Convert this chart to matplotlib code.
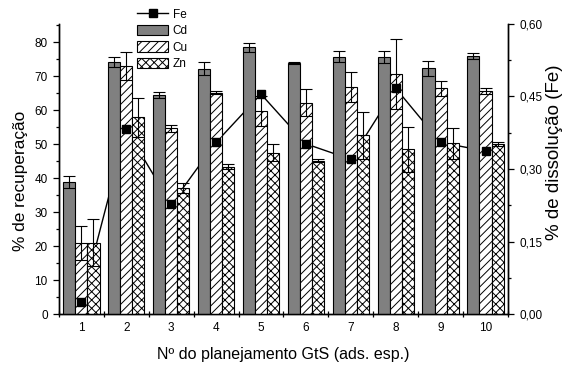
import numpy as np
import matplotlib
matplotlib.use('Agg')
import matplotlib.pyplot as plt
from matplotlib.patches import Patch
from matplotlib.lines import Line2D
from matplotlib.ticker import MultipleLocator, FixedLocator

plt.rcParams['font.family'] = ['Liberation Sans', 'DejaVu Sans']
plt.rcParams['hatch.linewidth'] = 0.7

# recuperação (%) por planejamento, com desvios
planejamento = [1, 2, 3, 4, 5, 6, 7, 8, 9, 10]
cd = [38.8, 74.2, 64.4, 72.2, 78.4, 73.9, 75.7, 75.7, 72.3, 75.9]
cd_err = [1.8, 1.5, 1.0, 2.0, 1.2, 0.3, 1.7, 1.8, 2.2, 0.8]
cu = [21.0, 72.9, 54.6, 65.1, 59.7, 62.1, 66.9, 70.5, 66.4, 65.6]
cu_err = [5.0, 4.1, 1.0, 0.5, 4.3, 4.0, 4.4, 10.3, 2.2, 0.8]
zn = [21.0, 57.8, 37.0, 43.3, 47.5, 45.1, 52.6, 48.4, 50.2, 50.0]
zn_err = [7.0, 5.6, 1.4, 0.7, 2.4, 0.5, 6.9, 6.5, 4.6, 0.5]
# dissolução do Fe (%)
fe = [0.025, 0.382, 0.227, 0.355, 0.455, 0.352, 0.320, 0.467, 0.355, 0.337]

x = np.array(planejamento)
w = 0.27
ytop = 85.3
fe_top = 0.6

fig = plt.figure(figsize=(5.66, 3.69), dpi=100)
ax = fig.add_axes([0.104, 0.149, 0.7935, 0.786])
ax2 = ax.twinx()

ekw = dict(fmt='none', ecolor='black', elinewidth=0.8, capsize=4.3, capthick=0.8, zorder=4)

ax.bar(x - w, cd, w, color='#808080', edgecolor='black', linewidth=0.8, zorder=3)
ax.errorbar(x - w, cd, yerr=cd_err, **ekw)
ax.bar(x, cu, w, color='white', edgecolor='black', hatch='////', linewidth=0.8, zorder=3)
ax.errorbar(x, cu, yerr=cu_err, **ekw)
ax.bar(x + w, zn, w, color='white', edgecolor='black', hatch='xxxx', linewidth=0.8, zorder=3)
ax.errorbar(x + w, zn, yerr=zn_err, **ekw)

# Fe na escala da direita; a linha fica atrás das barras e os marcadores na frente
fe_left = np.array(fe) * ytop / fe_top
ax.plot(x, fe_left, color='black', linewidth=1.0, zorder=2)
ax.plot(x, fe_left, linestyle='none', marker='s', markersize=5.5, color='black', zorder=5)

ax.set_xlim(0.5, 10.5)
ax.set_ylim(0, ytop)
ax2.set_ylim(0, fe_top)

ax.set_xticks(planejamento)
ax.tick_params(axis='x', which='major', length=0, labelsize=8.5, pad=6)
ax.xaxis.set_minor_locator(FixedLocator(np.arange(0.5, 11, 1.0)))
ax.tick_params(axis='x', which='minor', length=5, direction='inout', width=0.9)

ax.yaxis.set_major_locator(MultipleLocator(10))
ax.yaxis.set_minor_locator(MultipleLocator(5))
ax.tick_params(axis='y', which='major', length=4.5, width=0.9, labelsize=8.5)
ax.tick_params(axis='y', which='minor', length=2.5, width=0.9)

ax2.yaxis.set_major_locator(MultipleLocator(0.15))
ax2.yaxis.set_minor_locator(MultipleLocator(0.075))
ax2.set_yticks(ax2.get_yticks())
ax2.set_yticklabels([f'{v:.2f}'.replace('.', ',') for v in ax2.get_yticks()])
ax2.set_ylim(0, fe_top)
ax2.tick_params(axis='y', which='major', length=4.5, width=0.9, labelsize=8.5)
ax2.tick_params(axis='y', which='minor', length=2.5, width=0.9)

for a in (ax, ax2):
    a.spines['top'].set_visible(False)
    for s in ('left', 'right', 'bottom'):
        a.spines[s].set_linewidth(1.0)

ax.set_ylabel('% de recuperação', fontsize=12.4)
ax.yaxis.set_label_coords(-0.069, 0.459)
ax2.set_ylabel('% de dissolução (Fe)', fontsize=13.5)
ax2.yaxis.set_label_coords(1.085, 0.559)
ax.set_xlabel('Nº do planejamento GtS (ads. esp.)', fontsize=11.5, labelpad=9)

handles = [
    Line2D([], [], color='black', linewidth=1.0, marker='s', markersize=5.5),
    Patch(facecolor='#808080', edgecolor='black', linewidth=0.8),
    Patch(facecolor='white', edgecolor='black', hatch='////', linewidth=0.8),
    Patch(facecolor='white', edgecolor='black', hatch='xxxx', linewidth=0.8),
]
fig.legend(handles, ['Fe', 'Cd', 'Cu', 'Zn'], loc='upper left',
           bbox_to_anchor=(0.228, 1.0), frameon=False, fontsize=8.5,
           handlelength=2.6, handleheight=1.0, labelspacing=0.35,
           handletextpad=0.4, borderpad=0.2)

fig.savefig('out.png', dpi=100)
